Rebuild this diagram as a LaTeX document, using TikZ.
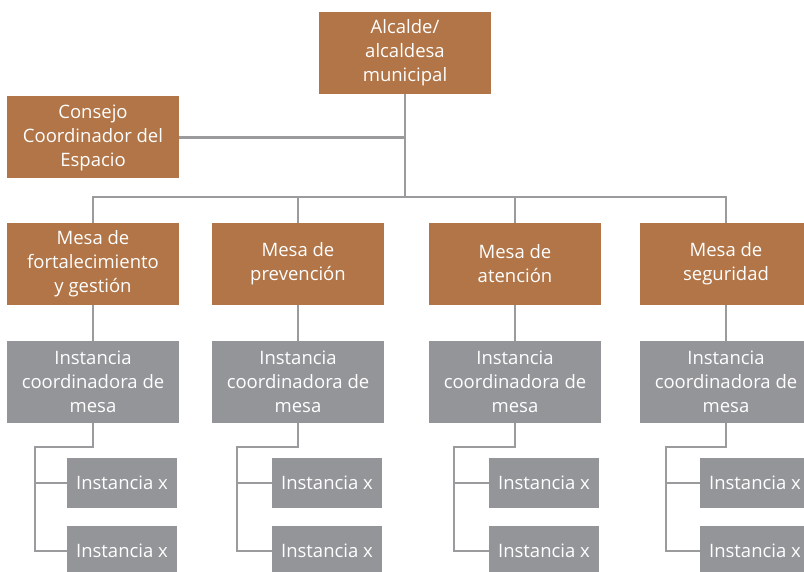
\documentclass[tikz,border=0pt]{standalone}
\usepackage{fontspec}
\setmainfont{Open Sans}
\usetikzlibrary{positioning}
\definecolor{mesabrown}{RGB}{177,117,72}
\definecolor{instgray}{RGB}{147,149,152}
\definecolor{linegray}{RGB}{155,155,157}

\begin{document}
\begin{tikzpicture}[x=1pt,y=1pt,line width=2.5pt,draw=linegray,
                    font=\fontsize{18.5}{24}\selectfont,
                    box/.style={fill=mesabrown,text=white,minimum width=172pt,
                      minimum height=82pt,inner sep=0pt,outer sep=0pt,align=center},
                    coord/.style={box,fill=instgray},
                    inst/.style={fill=instgray,text=white,minimum width=110pt,
                      minimum height=50pt,inner sep=0pt,outer sep=0pt}]
   \useasboundingbox (0,0) rectangle (804,-572);
   \node[box] (alcalde) at (405,-53) {Alcalde/\\alcaldesa\\municipal};
   \node[box] (consejo) at (93,-137.5) {Consejo\\Coordinador del\\Espacio};
   \node[box] (mesa1) at (93,-264) {Mesa de\\fortalecimiento\\y gestión};
   \node[box] (mesa2) [right=33pt of mesa1] {Mesa de\\prevención};
   \node[box] (mesa3) [right=45pt of mesa2] {Mesa de\\atención};
   \node[box] (mesa4) [right=39pt of mesa3] {Mesa de\\seguridad};
   \node[coord] (coord1) [below=36pt of mesa1] {Instancia\\coordinadora de\\mesa};
   \node[coord] (coord2) [below=36pt of mesa2] {Instancia\\coordinadora de\\mesa};
   \node[coord] (coord3) [below=36pt of mesa3] {Instancia\\coordinadora de\\mesa};
   \node[coord] (coord4) [below=36pt of mesa4] {Instancia\\coordinadora de\\mesa};
   \node[inst] (inst1a) [below=35pt of coord1,xshift=29pt] {Instancia x};
   \node[inst] (inst1b) [below=18pt of inst1a] {Instancia x};
   \node[inst] (inst2a) [below=35pt of coord2,xshift=29pt] {Instancia x};
   \node[inst] (inst2b) [below=18pt of inst2a] {Instancia x};
   \node[inst] (inst3a) [below=35pt of coord3,xshift=29pt] {Instancia x};
   \node[inst] (inst3b) [below=18pt of inst3a] {Instancia x};
   \node[inst] (inst4a) [below=35pt of coord4,xshift=29pt] {Instancia x};
   \node[inst] (inst4b) [below=18pt of inst4a] {Instancia x};

   \coordinate (bus) at ([yshift=26pt]mesa1.north);
   \draw (alcalde.south) -- (alcalde.south |- bus);
   \draw (consejo.east) -- (consejo.east -| alcalde.south);
   \draw (mesa1.north) |- (bus -| mesa4.north) -- (mesa4.north);
   \draw (mesa2.north) -- (mesa2.north |- bus);
   \draw (mesa3.north) -- (mesa3.north |- bus);
   \draw (mesa1) -- (coord1);
   \draw (mesa2) -- (coord2);
   \draw (mesa3) -- (coord3);
   \draw (mesa4) -- (coord4);
   \coordinate (elbow1) at ([xshift=-32pt,yshift=36pt]inst1a.west);
   \coordinate (elbow2) at ([xshift=-35pt,yshift=36pt]inst2a.west);
   \coordinate (elbow3) at ([xshift=-35pt,yshift=36pt]inst3a.west);
   \coordinate (elbow4) at ([xshift=-34pt,yshift=36pt]inst4a.west);
   \draw (coord1.south) |- (elbow1) |- (inst1b.west);
   \draw (inst1a.west -| elbow1) -- (inst1a.west);
   \draw (coord2.south) |- (elbow2) |- (inst2b.west);
   \draw (inst2a.west -| elbow2) -- (inst2a.west);
   \draw (coord3.south) |- (elbow3) |- (inst3b.west);
   \draw (inst3a.west -| elbow3) -- (inst3a.west);
   \draw (coord4.south) |- (elbow4) |- (inst4b.west);
   \draw (inst4a.west -| elbow4) -- (inst4a.west);

\end{tikzpicture}
\end{document}
